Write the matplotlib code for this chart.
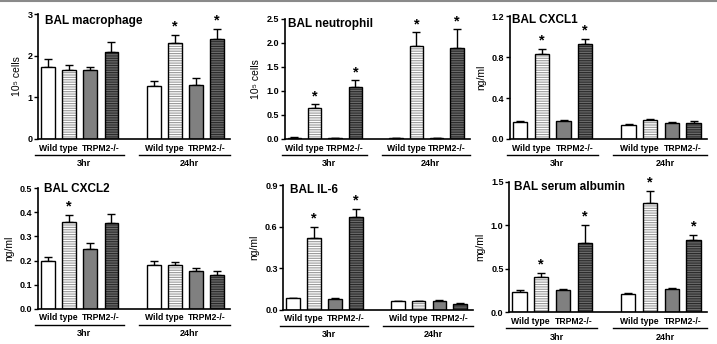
import numpy as np
import matplotlib.pyplot as plt
import matplotlib.transforms as mtransforms
from matplotlib.lines import Line2D

plt.rcParams['font.family'] = ['Liberation Sans', 'DejaVu Sans']
plt.rcParams['font.weight'] = 'bold'
plt.rcParams['hatch.linewidth'] = 0.8

time_points = ['3hr', '24hr']
strains = ['Wild type', 'TRPM2-/-']

# order per time point: WT, WT treated, TRPM2-/-, TRPM2-/- treated
macrophage = [1.72, 1.65, 1.65, 2.10, 1.27, 2.30, 1.30, 2.40]
macrophage_err = [0.20, 0.12, 0.09, 0.22, 0.13, 0.19, 0.17, 0.25]
macrophage_star = [0, 0, 0, 0, 0, 1, 0, 1]

neutrophil = [0.03, 0.65, 0.01, 1.08, 0.01, 1.93, 0.01, 1.90]
neutrophil_err = [0.01, 0.07, 0.005, 0.14, 0.005, 0.29, 0.005, 0.38]
neutrophil_star = [0, 1, 0, 1, 0, 1, 0, 1]

cxcl1 = [0.17, 0.83, 0.18, 0.93, 0.14, 0.19, 0.16, 0.16]
cxcl1_err = [0.01, 0.05, 0.01, 0.05, 0.01, 0.01, 0.01, 0.02]
cxcl1_star = [0, 1, 0, 1, 0, 0, 0, 0]

cxcl2 = [0.20, 0.36, 0.25, 0.355, 0.18, 0.18, 0.155, 0.14]
cxcl2_err = [0.017, 0.03, 0.025, 0.04, 0.02, 0.015, 0.015, 0.015]
cxcl2_star = [0, 1, 0, 0, 0, 0, 0, 0]

il6 = [0.085, 0.52, 0.08, 0.67, 0.065, 0.065, 0.067, 0.045]
il6_err = [0.004, 0.08, 0.004, 0.06, 0.003, 0.003, 0.003, 0.003]
il6_star = [0, 1, 0, 1, 0, 0, 0, 0]

albumin = [0.23, 0.40, 0.25, 0.80, 0.21, 1.26, 0.26, 0.83]
albumin_err = [0.02, 0.05, 0.02, 0.20, 0.01, 0.14, 0.02, 0.06]
albumin_star = [0, 1, 0, 1, 0, 1, 0, 1]

panels = [
    ('BAL macrophage', '10\u2075 cells', macrophage, macrophage_err, macrophage_star, [0, 1, 2, 3], '{:.0f}'),
    ('BAL neutrophil', '10\u2075 cells', neutrophil, neutrophil_err, neutrophil_star, [0, 0.5, 1.0, 1.5, 2.0, 2.5], '{:.1f}'),
    ('BAL CXCL1', 'ng/ml', cxcl1, cxcl1_err, cxcl1_star, [0, 0.4, 0.8, 1.2], '{:.1f}'),
    ('BAL CXCL2', 'ng/ml', cxcl2, cxcl2_err, cxcl2_star, [0, 0.1, 0.2, 0.3, 0.4, 0.5], '{:.1f}'),
    ('BAL IL-6', 'ng/ml', il6, il6_err, il6_star, [0, 0.3, 0.6, 0.9], '{:.1f}'),
    ('BAL serum albumin', 'mg/ml', albumin, albumin_err, albumin_star, [0, 0.5, 1.0, 1.5], '{:.1f}'),
]

axes_pos = [
    [0.053, 0.596, 0.268, 0.363],
    [0.397, 0.596, 0.258, 0.349],
    [0.711, 0.596, 0.275, 0.357],
    [0.053, 0.102, 0.268, 0.351],
    [0.395, 0.099, 0.265, 0.363],
    [0.710, 0.093, 0.276, 0.378],
]
# title offset from top-left corner of each axes, in pixels (right, down)
title_offsets = [(7, 6.5), (3, 5), (2, 4), (6, 1), (7, 4.7), (5, 5)]

bar_styles = [
    dict(face='white', hatch=None, hc='black'),
    dict(face='white', hatch='-------', hc='#9a9a9a'),
    dict(face='#808080', hatch=None, hc='black'),
    dict(face='#6a6a6a', hatch='-------', hc='#2a2a2a'),
]

x = np.concatenate([np.arange(4), np.arange(4) + 5])
width = 0.66

fig = plt.figure(figsize=(7.17, 3.44), dpi=100)
fig.add_artist(Line2D([0, 1], [0.996, 0.996], color='#8a8a8a', lw=1.5))

for (title, ylab, vals, errs, stars, yticks, fmt), pos, toff in zip(panels, axes_pos, title_offsets):
    ax = fig.add_axes(pos)
    vals = np.array(vals)
    errs = np.array(errs)
    for i in range(len(vals)):
        st = bar_styles[i % 4]
        ax.bar(x[i], vals[i], width, color=st['face'], edgecolor=st['hc'],
               hatch=st['hatch'], linewidth=0, zorder=2)
        ax.bar(x[i], vals[i], width, fill=False, edgecolor='black', linewidth=1, zorder=3)
    ax.errorbar(x, vals, yerr=[np.zeros_like(errs), errs], fmt='none', ecolor='black',
                elinewidth=1, capsize=3, capthick=1, zorder=1)
    for i in range(len(vals)):
        if stars[i]:
            ax.annotate('*', xy=(x[i], vals[i] + errs[i]), xytext=(0, 1),
                        textcoords='offset points', ha='center', va='bottom', fontsize=10.5)

    ax.set_xlim(-0.48, 8.62)
    ax.set_ylim(0, yticks[-1])
    ax.set_yticks(yticks)
    ax.set_yticklabels([fmt.format(t) for t in yticks])
    ax.set_xticks([])
    ax.spines[['top', 'right']].set_visible(False)
    ax.spines['left'].set_linewidth(1.2)
    ax.spines['bottom'].set_linewidth(1.2)
    ax.tick_params(axis='y', length=3, width=1, labelsize=6.5, pad=1)
    ax.set_ylabel(ylab, fontsize=7.5, labelpad=4)
    ax.annotate(title, xy=(0, 1), xycoords='axes fraction',
                xytext=(toff[0] * 0.72, -toff[1] * 0.72), textcoords='offset points',
                ha='left', va='center', fontsize=8.5)

    # group labels under the axis
    for g, tp in enumerate(time_points):
        base = g * 5
        for s, name in enumerate(strains):
            ax.annotate(name, xy=(base + 0.5 + 2 * s, 0), xycoords=('data', 'axes fraction'),
                        xytext=(0, -6.5), textcoords='offset points',
                        ha='center', va='center', fontsize=6.2)
        trans = ax.get_xaxis_transform() + mtransforms.ScaledTranslation(0, -16 / 100, fig.dpi_scale_trans)
        x0, x1 = (-0.62, 3.57) if g == 0 else (4.3, 8.62)
        ax.add_line(Line2D([x0, x1], [0, 0], transform=trans, color='black', lw=1, clip_on=False))
        ax.annotate(tp, xy=(base + 1.7, 0), xycoords=('data', 'axes fraction'),
                    xytext=(0, -18), textcoords='offset points',
                    ha='center', va='center', fontsize=6.5)

plt.savefig('out.png', dpi=100)
